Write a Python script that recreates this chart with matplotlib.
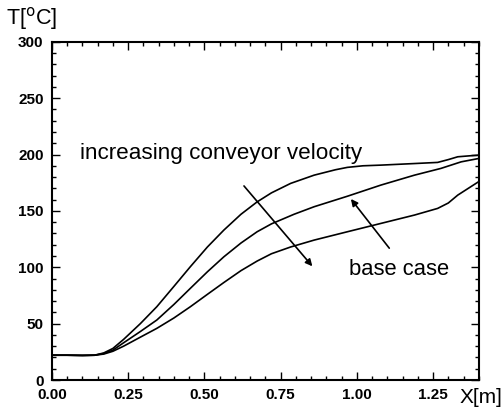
import matplotlib
matplotlib.use("Agg")
import matplotlib.pyplot as plt
from matplotlib.ticker import MultipleLocator

plt.rcParams['font.family'] = ['Liberation Sans', 'DejaVu Sans']

# common inlet section (all cases coincide)
x_inlet = [0.00, 0.05, 0.10, 0.14]
t_inlet = [22.0, 22.0, 21.8, 22.0]

# lowest conveyor velocity (hottest)
x_slow = [0.17, 0.20, 0.235, 0.29, 0.344, 0.40, 0.454, 0.51, 0.564, 0.62, 0.673, 0.72,
          0.783, 0.86, 0.93, 0.969, 1.02, 1.079, 1.189, 1.265, 1.30, 1.331, 1.40]
t_slow = [24, 28, 36, 50, 65, 83, 100.5, 118, 133, 147, 158, 166,
          174.4, 181.7, 186.5, 188.6, 190, 190.6, 192, 193, 195.5, 198, 199.5]

# base case
x_base = [0.17, 0.20, 0.235, 0.29, 0.344, 0.40, 0.454, 0.51, 0.564, 0.62, 0.673, 0.72,
          0.794, 0.86, 0.969, 1.079, 1.189, 1.276, 1.342, 1.40]
t_base = [23.5, 26.5, 33, 43, 53.2, 67, 81.3, 96, 109.3, 121.5, 131.5, 138.5,
          147, 153.7, 163, 172.9, 181.7, 187.7, 193.5, 196.5]

# highest conveyor velocity
x_fast = [0.17, 0.20, 0.235, 0.29, 0.344, 0.40, 0.454, 0.51, 0.564, 0.62, 0.673, 0.72,
          0.783, 0.86, 0.969, 1.079, 1.189, 1.265, 1.30, 1.331, 1.40]
t_fast = [23, 25.5, 30, 38, 45.8, 55, 65, 76, 86.5, 97, 105.5, 112,
          118, 124.1, 131.5, 138.9, 146.3, 152.2, 157, 164, 176]

fig = plt.figure(figsize=(5.04, 4.08), dpi=100)
ax = fig.add_axes([0.103, 0.0686, 0.847, 0.829])

for xs, ts in [(x_slow, t_slow), (x_base, t_base), (x_fast, t_fast)]:
    ax.plot(x_inlet + xs, t_inlet + ts, color='black', lw=1.2)

ax.set_xlim(0, 1.40)
ax.set_ylim(0, 300)
ax.xaxis.set_minor_locator(MultipleLocator(0.05))
ax.yaxis.set_major_locator(MultipleLocator(50))
ax.yaxis.set_minor_locator(MultipleLocator(10))
ax.set_xticks([0.0, 0.25, 0.5, 0.75, 1.0, 1.25])
ax.set_xticklabels(['0.00', '0.25', '0.50', '0.75', '1.00', '1.25'])
ax.tick_params(which='both', direction='in', top=True, right=True, width=1.0)
ax.tick_params(which='major', length=6, labelsize=11)
ax.tick_params(axis='y', which='major', pad=6)
ax.tick_params(axis='x', which='major', pad=6)
ax.tick_params(which='minor', length=3)
for lab in ax.get_xticklabels() + ax.get_yticklabels():
    lab.set_fontweight('bold')
for s in ax.spines.values():
    s.set_linewidth(1.5)

fig.text(0.012, 0.922, 'T[$^{\\mathrm{o}}$C]', fontsize=15.5, va='bottom', ha='left')
fig.text(0.997, 0.002, 'X[m]', fontsize=15, va='bottom', ha='right')

ax.text(0.092, 196, 'increasing conveyor velocity', fontsize=16.2, va='baseline', ha='left')
ax.text(0.974, 93, 'base case', fontsize=15.8, va='baseline', ha='left')

arrow = dict(arrowstyle='-|>', color='black', lw=1.2, mutation_scale=10)
ax.annotate('', xy=(0.86, 99), xytext=(0.624, 174), arrowprops=arrow)
ax.annotate('', xy=(0.975, 162.5), xytext=(1.112, 115), arrowprops=arrow)

fig.savefig('out.png', dpi=100)
